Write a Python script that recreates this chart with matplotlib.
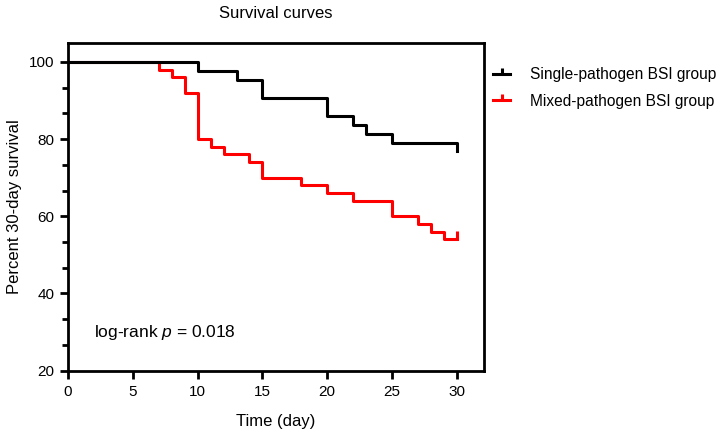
import matplotlib
matplotlib.use("Agg")
import matplotlib.pyplot as plt
from matplotlib.ticker import MultipleLocator
from matplotlib.lines import Line2D

plt.rcParams['font.family'] = ['Liberation Sans', 'DejaVu Sans']
plt.rcParams['mathtext.fontset'] = 'custom'
plt.rcParams['mathtext.it'] = 'Liberation Sans:italic'
plt.rcParams['mathtext.rm'] = 'Liberation Sans'

# Kaplan-Meier steps
single_days = [0, 10, 13, 15, 20, 22, 23, 25, 30]
single_surv = [100, 97.7, 95.3, 90.7, 86.0, 83.7, 81.4, 79.1, 77.0]

mixed_days = [0, 7, 8, 9, 10, 11, 12, 14, 15, 18, 20, 22, 25, 27, 28, 29, 30]
mixed_surv = [100, 98, 96, 92, 80, 78, 76, 74, 70, 68, 66, 64, 60, 58, 56, 54, 54]
mixed_censor_day = [30]
mixed_censor_surv = [54]

labels = ['Single-pathogen BSI group', 'Mixed-pathogen BSI group']
red = '#ff0000'

# censor tick pointing up
tick_up = [(0, 0), (0, 1)]

fig = plt.figure(figsize=(7.24, 4.34), dpi=100)
ax = fig.add_axes([0.094, 0.146, 0.5745, 0.756])

ax.step(mixed_days, mixed_surv, where='post', color=red, lw=2.2, zorder=2)
ax.plot(mixed_censor_day, mixed_censor_surv, ls='none', marker=tick_up,
        ms=11, mew=2.2, color=red, zorder=2)
ax.step(single_days, single_surv, where='post', color='black', lw=2.2, zorder=3)

ax.set_xlim(0, 32.1)
ax.set_ylim(20, 105)
ax.set_xticks(range(0, 31, 5))
ax.yaxis.set_major_locator(MultipleLocator(20))
ax.yaxis.set_minor_locator(MultipleLocator(20 / 3))

for s in ax.spines.values():
    s.set_linewidth(2.0)
ax.tick_params(axis='both', which='major', length=6, width=2.0, labelsize=11, pad=4)
ax.tick_params(axis='y', which='minor', length=4, width=2.0)

ax.set_xlabel('Time (day)', fontsize=12, labelpad=11)
ax.set_ylabel('Percent 30-day survival', fontsize=12, labelpad=5)
ax.set_title('Survival curves', fontsize=12, pad=18)

ax.text(2.0, 29.8, 'log-rank $p$ = 0.018', fontsize=12.5, va='center', ha='left')

handles = [
    Line2D([], [], color='black', lw=2.2, marker=tick_up, ms=9, mew=2.2),
    Line2D([], [], color=red, lw=2.2, marker=tick_up, ms=9, mew=2.2),
]
ax.legend(handles, labels, loc='upper left', bbox_to_anchor=(0.988, 0.968),
          frameon=False, fontsize=11.2, handlelength=1.1, handletextpad=1.25,
          labelspacing=0.75, numpoints=1)

fig.savefig('out.png', dpi=100)
